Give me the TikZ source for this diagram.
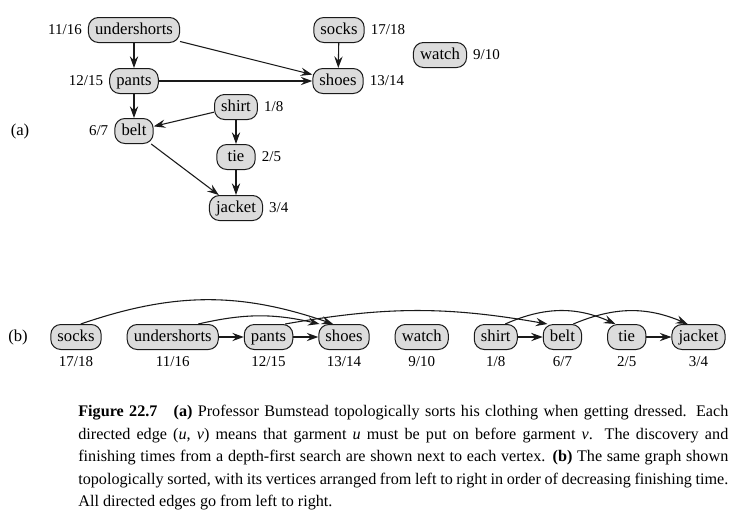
\documentclass[tikz,border=0pt]{standalone}
\usepackage{fontspec}
\setmainfont{Liberation Serif}
\usepackage{xcolor}
\usepackage{tikz}
\usetikzlibrary{positioning, arrows.meta}
\definecolor{garmentgray}{HTML}{DCDCDC}
\definecolor{inkblack}{HTML}{1A1A1A}
\tikzset{
  garment/.style={fill=garmentgray, draw=inkblack, line width=0.6pt, rounded corners=6pt,
                  inner xsep=4pt, inner ysep=0pt, minimum width=23pt, minimum height=15pt,
                  text height=7pt, text depth=2pt, font=\fontsize{10}{12}\selectfont},
  stamp/.style={inner sep=0pt, text height=6.5pt, text depth=1pt, font=\fontsize{9}{11}\selectfont},
  dep/.style={draw=inkblack, line width=0.65pt, -{Stealth[length=7pt, width=5pt, inset=2.5pt]}}
}

\begin{document}
\begin{tikzpicture}[x=0.6pt, y=-0.6pt]
    \useasboundingbox (0,0) rectangle (736,528);
    \node[font=\fontsize{10}{12}\selectfont] (parta) at (20,131) {(a)};
    \node[garment] (shorts) at (134,30) {undershorts};
    \node[garment] (socks) at (339,30) {socks};
    \node[garment] (watch) at (440,55) {watch};
    \node[garment] (pants) at (134,81) {pants};
    \node[garment] (shoes) at (338,81) {shoes};
    \node[garment] (shirt) at (236,107) {shirt};
    \node[garment] (belt) at (134,131) {belt};
    \node[garment] (tie) at (236,157) {tie};
    \node[garment] (jacket) at (236,208) {jacket};
    \node[stamp, left=3.5pt of shorts] (shortsT) {11/16};
    \node[stamp, right=3.5pt of socks] (socksT) {17/18};
    \node[stamp, right=3.5pt of watch] (watchT) {9/10};
    \node[stamp, left=3.5pt of pants] (pantsT) {12/15};
    \node[stamp, right=3.5pt of shoes] (shoesT) {13/14};
    \node[stamp, right=3.5pt of shirt] (shirtT) {1/8};
    \node[stamp, left=3.5pt of belt] (beltT) {6/7};
    \node[stamp, right=3.5pt of tie] (tieT) {2/5};
    \node[stamp, right=3.5pt of jacket] (jacketT) {3/4};
    \draw[dep] (shorts) -- (pants);
    \draw[dep] (shorts) -- (shoes);
    \draw[dep] (socks) -- (shoes);
    \draw[dep] (pants) -- (shoes);
    \draw[dep] (pants) -- (belt);
    \draw[dep] (shirt) -- (belt);
    \draw[dep] (shirt) -- (tie);
    \draw[dep] (tie) -- (jacket);
    \draw[dep] (belt) -- (jacket);

    \node[font=\fontsize{10}{12}\selectfont] (partb) at (18,337) {(b)};
    \node[garment] (socksB) at (76,337) {socks};
    \node[garment, right=15pt of socksB] (shortsB) {undershorts};
    \node[garment, right=15pt of shortsB] (pantsB) {pants};
    \node[garment, right=15pt of pantsB] (shoesB) {shoes};
    \node[garment, right=15pt of shoesB] (watchB) {watch};
    \node[garment, right=15pt of watchB] (shirtB) {shirt};
    \node[garment, right=15pt of shirtB] (beltB) {belt};
    \node[garment, right=15pt of beltB] (tieB) {tie};
    \node[garment, right=15pt of tieB] (jacketB) {jacket};
    \node[stamp, below=3pt of socksB] (socksBT) {17/18};
    \node[stamp, below=3pt of shortsB] (shortsBT) {11/16};
    \node[stamp, below=3pt of pantsB] (pantsBT) {12/15};
    \node[stamp, below=3pt of shoesB] (shoesBT) {13/14};
    \node[stamp, below=3pt of watchB] (watchBT) {9/10};
    \node[stamp, below=3pt of shirtB] (shirtBT) {1/8};
    \node[stamp, below=3pt of beltB] (beltBT) {6/7};
    \node[stamp, below=3pt of tieB] (tieBT) {2/5};
    \node[stamp, below=3pt of jacketB] (jacketBT) {3/4};
    \draw[dep] (shortsB) -- (pantsB);
    \draw[dep] (pantsB) -- (shoesB);
    \draw[dep] (shirtB) -- (beltB);
    \draw[dep] (tieB) -- (jacketB);
    \draw[dep] (socksB.70) to[bend left=19] (shoesB.130);
    \draw[dep] (shortsB.27) to[bend left=13] (shoesB.152);
    \draw[dep] (pantsB.38) to[bend left=10] (beltB.139);
    \draw[dep] (shirtB.54) to[bend left=24] (tieB.131);
    \draw[dep] (beltB.50) to[bend left=23] (jacketB.130);

    \node[anchor=north west, inner sep=0pt, text width=390pt, align=justify,
          font=\fontsize{9.7}{13.5}\selectfont] (caption) at (78,405) {%
      \textbf{Figure 22.7}\quad\textbf{(a)} Professor Bumstead topologically sorts his clothing when getting dressed. Each\linebreak
      directed edge (\textit{u},~\textit{v}) means that garment \textit{u} must be put on before garment \textit{v}. The discovery and\linebreak
      finishing times from a depth-first search are shown next to each vertex. \textbf{(b)} The same graph shown\linebreak
      topologically sorted, with its vertices arranged from left to right in order of decreasing finishing time.\linebreak
      All directed edges go from left to right.};
\end{tikzpicture}
\end{document}
